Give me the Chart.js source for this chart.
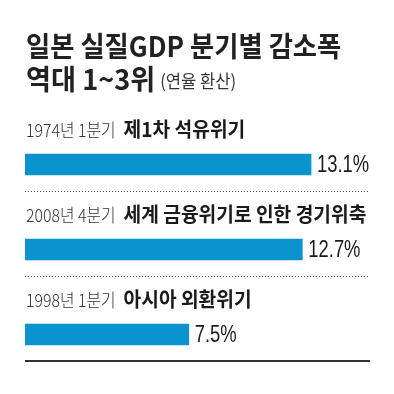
<!DOCTYPE html>
<html><head><meta charset="utf-8">
<script src="https://cdn.jsdelivr.net/npm/chart.js@4.4.0/dist/chart.umd.min.js"></script>
<style>html,body{margin:0;padding:0;background:#fff}#wrap{width:394px;height:394px;position:relative}</style>
</head><body><div id="wrap"><canvas id="c" width="394" height="394"></canvas></div>
<script>
const titleLine1 = '일본 실질GDP 분기별 감소폭';
const titleLine2 = '역대 1~3위';
const titleNote = '(연율 환산)';
const periods = ['1974년 1분기', '2008년 4분기', '1998년 1분기'];
const events = ['제1차 석유위기', '세계 금융위기로 인한 경기위축', '아시아 외환위기'];
const values = [13.1, 12.7, 7.5];
const valueLabels = ['13.1%', '12.7%', '7.5%'];

const KR = '"Noto Sans CJK KR", "Noto Sans", sans-serif';
const LAT = '"Liberation Sans", Arial, sans-serif';

function txt(ctx, s, x, y, font, color, sx, base) {
  ctx.save();
  ctx.font = font;
  ctx.fillStyle = color;
  ctx.textBaseline = base || 'alphabetic';
  ctx.textAlign = 'left';
  ctx.translate(x, y);
  ctx.scale(sx, 1);
  ctx.fillText(s, 0, 0);
  const w = ctx.measureText(s).width * sx;
  ctx.restore();
  return w;
}

const decor = {
  id: 'decor',
  afterDatasetsDraw(chart) {
    const ctx = chart.ctx;
    const area = chart.chartArea;
    const left = area.left;
    // title
    txt(ctx, titleLine1, left + 1, 57, 'bold 28px ' + KR, '#222', 0.94);
    let w = txt(ctx, titleLine2, left + 1, 90, 'bold 28px ' + KR, '#222', 0.97);
    txt(ctx, titleNote, left + 1 + w + 5, 88, '18px ' + KR, '#333', 0.92);
    const meta = chart.getDatasetMeta(0);
    meta.data.forEach((bar, i) => {
      const cy = bar.y;
      const pw = txt(ctx, periods[i], left + 1, cy - 28, '300 18px ' + KR, '#333', 0.88);
      txt(ctx, events[i], left + 1 + pw + 8, cy - 28, 'bold 20px ' + KR, '#1a1a1a', 0.96);
      txt(ctx, valueLabels[i], bar.x + 6, cy + 1, '23px ' + LAT, '#1a1a1a', 0.8, 'middle');
      const ly = cy + 26.5;
      ctx.save();
      ctx.beginPath();
      if (i < meta.data.length - 1) {
        ctx.setLineDash([1, 2]);
        ctx.lineWidth = 1;
        ctx.strokeStyle = '#555';
        ctx.moveTo(left, Math.round(ly) + 0.5);
        ctx.lineTo(area.right, Math.round(ly) + 0.5);
      } else {
        ctx.lineWidth = 2;
        ctx.strokeStyle = '#333';
        ctx.moveTo(left, Math.round(ly));
        ctx.lineTo(area.right, Math.round(ly));
      }
      ctx.stroke();
      ctx.restore();
    });
  }
};

new Chart(document.getElementById('c'), {
  type: 'bar',
  data: {
    labels: periods,
    datasets: [{
      data: values,
      backgroundColor: '#0B93CE',
      borderWidth: 0,
      barThickness: 21
    }]
  },
  options: {
    indexAxis: 'y',
    responsive: false,
    animation: false,
    devicePixelRatio: 1,
    layout: { padding: { left: 25, right: 24, top: 122, bottom: 17 } },
    plugins: { legend: { display: false }, tooltip: { enabled: false }, title: { display: false } },
    scales: {
      x: { display: false, min: 0, max: 15.8 },
      y: { display: false, offset: true }
    }
  },
  plugins: [decor]
});
</script>
</body></html>
